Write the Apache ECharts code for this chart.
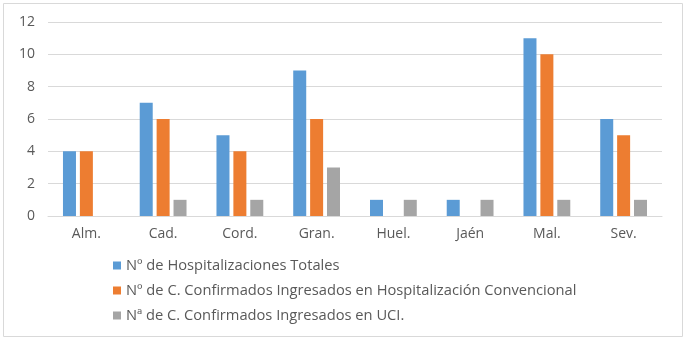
<!DOCTYPE html>
<html><head><meta charset="utf-8">
<script src="https://cdn.jsdelivr.net/npm/echarts@6/dist/echarts.min.js"></script>
<style>html,body{margin:0;padding:0;background:#fff}#c{width:687px;height:341px}</style>
</head><body><div id="c"></div>
<script>
const categories = ['Alm.', 'Cad.', 'Cord.', 'Gran.', 'Huel.', 'Jaén', 'Mal.', 'Sev.'];
const hospTotales = [4, 7, 5, 9, 1, 1, 11, 6];
const hospConvencional = [4, 6, 4, 6, 0, 0, 10, 5];
const uci = [0, 1, 1, 3, 1, 1, 1, 1];
const seriesNames = ['Nº de Hospitalizaciones Totales', 'Nº de C. Confirmados Ingresados en Hospitalización Convencional', 'Nª de C. Confirmados Ingresados en UCI.'];
const colors = ['#5B9BD5', '#ED7D31', '#A5A5A5'];
const font = '"Open Sans", sans-serif';
const chart = echarts.init(document.getElementById('c'));
const mk = (name, data, i) => ({
  name, type: 'bar', data: data.map(v => v === 0 ? null : v), barWidth: 13, barGap: '30%',
  itemStyle: { color: colors[i] }
});
chart.setOption({
  animation: false,
  color: colors,
  graphic: [{ type: 'rect', shape: { x: 3.5, y: 3.5, width: 679, height: 333 }, style: { fill: 'none', stroke: '#D9D9D9', lineWidth: 1 } }],
  grid: { left: 48, right: 25, top: 22, bottom: 125 },
  xAxis: {
    type: 'category', data: categories,
    axisLine: { lineStyle: { color: '#D9D9D9' } }, axisTick: { show: false },
    axisLabel: { color: '#595959', fontSize: 14, fontFamily: font, margin: 11 }
  },
  yAxis: {
    type: 'value', min: 0, max: 12, interval: 2,
    axisLine: { show: false }, axisTick: { show: false },
    splitLine: { lineStyle: { color: '#D9D9D9' } },
    axisLabel: { color: '#595959', fontSize: 14, fontFamily: font, margin: 13 }
  },
  legend: {
    orient: 'vertical', left: 108, top: 252, itemGap: 8,
    itemWidth: 8, itemHeight: 8, icon: 'rect',
    textStyle: { color: '#595959', fontSize: 14.7, fontFamily: font, lineHeight: 17 }
  },
  series: [mk(seriesNames[0], hospTotales, 0), mk(seriesNames[1], hospConvencional, 1), mk(seriesNames[2], uci, 2)]
});
</script></body></html>
